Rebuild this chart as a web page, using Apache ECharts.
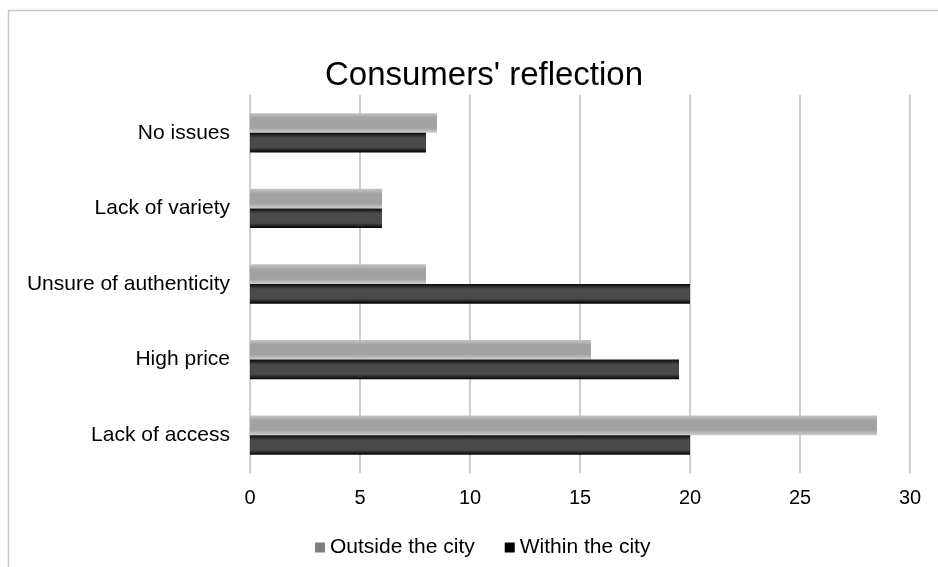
<!DOCTYPE html>
<html>
<head>
<meta charset="utf-8">
<script src="https://cdn.jsdelivr.net/npm/echarts@6/dist/echarts.min.js"></script>
<style>
  html, body { margin: 0; padding: 0; background: #fff; }
  #main { width: 938px; height: 567px; }
</style>
</head>
<body>
<div id="main"></div>
<script>
// categories listed bottom to top (category axis starts at the bottom)
var categories = ['Lack of access', 'High price', 'Unsure of authenticity', 'Lack of variety', 'No issues'];
var outsideCity = [28.5, 15.5, 8, 6, 8.5];
var withinCity = [20, 19.5, 20, 6, 8];
var xTicks = [0, 5, 10, 15, 20, 25, 30];

var chart = echarts.init(document.getElementById('main'));

var FONT = '"Liberation Sans", Arial, sans-serif';

var outsideFill = new echarts.graphic.LinearGradient(0, 0, 0, 1, [
    { offset: 0, color: '#c4c4c4' },
    { offset: 0.25, color: '#a2a2a2' },
    { offset: 0.75, color: '#a2a2a2' },
    { offset: 1, color: '#d0d0d0' }
]);
var withinFill = new echarts.graphic.LinearGradient(0, 0, 0, 1, [
    { offset: 0, color: '#0a0a0a' },
    { offset: 0.25, color: '#4a4a4a' },
    { offset: 0.75, color: '#4a4a4a' },
    { offset: 1, color: '#000000' }
]);

var option = {
    backgroundColor: '#ffffff',
    animation: false,
    title: {
        text: "Consumers' reflection",
        left: 479,
        textAlign: 'center',
        top: 54,
        textStyle: { fontFamily: FONT, fontSize: 33, fontWeight: 'normal', color: '#000' }
    },
    legend: {
        data: [
            { name: 'Outside the city', itemStyle: { color: '#808080' } },
            { name: 'Within the city', itemStyle: { color: '#000000' } }
        ],
        left: 310,
        top: 532,
        icon: 'rect',
        itemWidth: 10,
        itemHeight: 10,
        itemGap: 30,
        textStyle: { fontFamily: FONT, fontSize: 21, color: '#000' }
    },
    grid: { left: 250, right: 28, top: 95, bottom: 94, containLabel: false },
    xAxis: {
        type: 'value',
        min: 0,
        max: 30,
        interval: 5,
        axisLine: { show: false },
        axisTick: { show: false },
        axisLabel: {
            margin: 15,
            fontFamily: FONT, fontSize: 20, color: '#000',
            formatter: function (v) { return xTicks.indexOf(v) >= 0 ? String(v) : ''; }
        },
        splitLine: { show: true, lineStyle: { color: '#bcbcbc', width: 1.5 } }
    },
    yAxis: {
        type: 'category',
        data: categories,
        axisLine: { show: false },
        axisTick: { show: false },
        axisLabel: { margin: 20, fontFamily: FONT, fontSize: 21, color: '#000' }
    },
    series: [
        {
            name: 'Outside the city',
            type: 'bar',
            data: outsideCity,
            barGap: '0%',
            barCategoryGap: '48%',
            itemStyle: { color: outsideFill }
        },
        {
            name: 'Within the city',
            type: 'bar',
            data: withinCity,
            barGap: '0%',
            barCategoryGap: '48%',
            itemStyle: { color: withinFill }
        }
    ],
    graphic: [
        { type: 'line', shape: { x1: 8, y1: 10.5, x2: 938, y2: 10.5 }, style: { stroke: '#c8c8c8', lineWidth: 1.5 }, silent: true },
        { type: 'line', shape: { x1: 8.5, y1: 10, x2: 8.5, y2: 567 }, style: { stroke: '#c8c8c8', lineWidth: 1.5 }, silent: true }
    ]
};

chart.setOption(option);
</script>
</body>
</html>
